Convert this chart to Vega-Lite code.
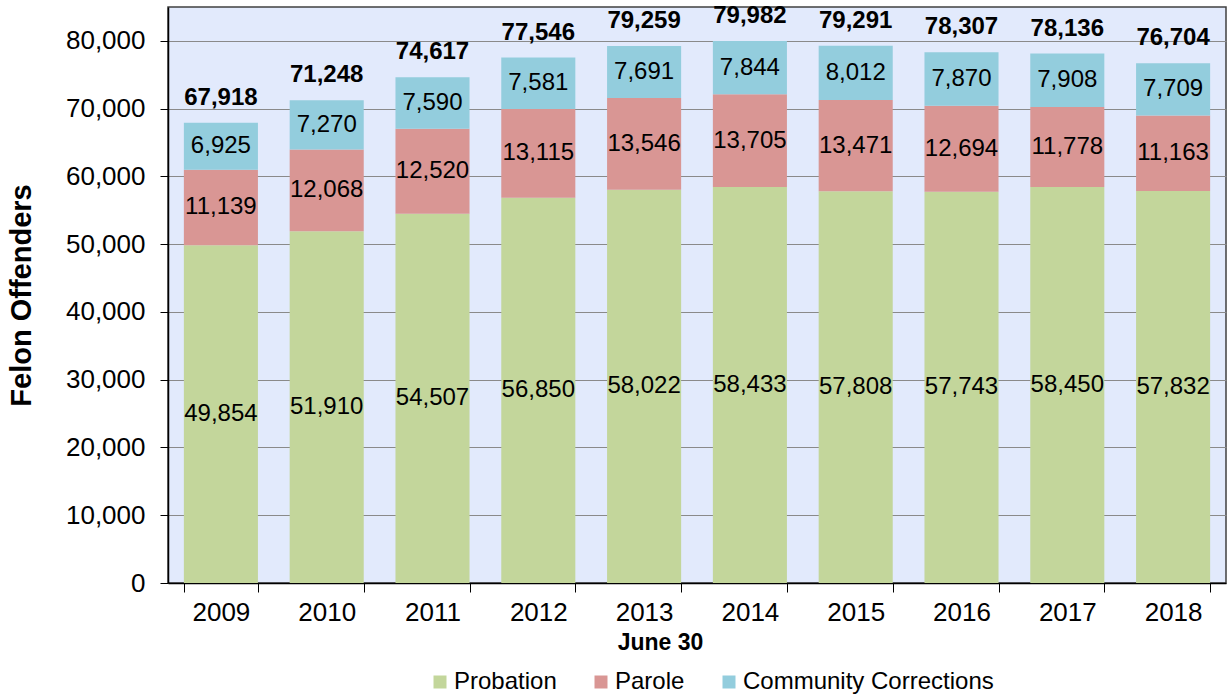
{
  "$schema": "https://vega.github.io/schema/vega-lite/v6.json",
  "width": 1058,
  "height": 576,
  "autosize": {"type": "none"},
  "padding": {"left": 168, "top": 7, "right": 2, "bottom": 113},
  "background": "white",
  "config": {
    "font": "Liberation Sans",
    "view": {"stroke": "#404040", "strokeWidth": 1.5, "fill": "#e2eafc"}
  },
  "data": {
    "values": [
      {"year": "2009", "series": "Probation", "value": 49854},
      {"year": "2009", "series": "Parole", "value": 11139},
      {"year": "2009", "series": "Community Corrections", "value": 6925},
      {"year": "2010", "series": "Probation", "value": 51910},
      {"year": "2010", "series": "Parole", "value": 12068},
      {"year": "2010", "series": "Community Corrections", "value": 7270},
      {"year": "2011", "series": "Probation", "value": 54507},
      {"year": "2011", "series": "Parole", "value": 12520},
      {"year": "2011", "series": "Community Corrections", "value": 7590},
      {"year": "2012", "series": "Probation", "value": 56850},
      {"year": "2012", "series": "Parole", "value": 13115},
      {"year": "2012", "series": "Community Corrections", "value": 7581},
      {"year": "2013", "series": "Probation", "value": 58022},
      {"year": "2013", "series": "Parole", "value": 13546},
      {"year": "2013", "series": "Community Corrections", "value": 7691},
      {"year": "2014", "series": "Probation", "value": 58433},
      {"year": "2014", "series": "Parole", "value": 13705},
      {"year": "2014", "series": "Community Corrections", "value": 7844},
      {"year": "2015", "series": "Probation", "value": 57808},
      {"year": "2015", "series": "Parole", "value": 13471},
      {"year": "2015", "series": "Community Corrections", "value": 8012},
      {"year": "2016", "series": "Probation", "value": 57743},
      {"year": "2016", "series": "Parole", "value": 12694},
      {"year": "2016", "series": "Community Corrections", "value": 7870},
      {"year": "2017", "series": "Probation", "value": 58450},
      {"year": "2017", "series": "Parole", "value": 11778},
      {"year": "2017", "series": "Community Corrections", "value": 7908},
      {"year": "2018", "series": "Probation", "value": 57832},
      {"year": "2018", "series": "Parole", "value": 11163},
      {"year": "2018", "series": "Community Corrections", "value": 7709}
    ]
  },
  "transform": [
    {"stack": "value", "groupby": ["year"], "sort": [{"field": "series", "order": "descending"}], "as": ["v0", "v1"]}
  ],
  "encoding": {
    "x": {
      "field": "year",
      "type": "ordinal",
      "scale": {"paddingInner": 0.3, "paddingOuter": 0.15},
      "axis": {
        "title": "June 30",
        "labelAngle": 0,
        "tickBand": "extent",
        "tickSize": 9,
        "tickColor": "#000000",
        "domainColor": "#000000",
        "domainWidth": 1.5,
        "labelFontSize": 26,
        "labelColor": "#000000",
        "labelPadding": 7,
        "titleFontSize": 23,
        "titleFontWeight": "bold",
        "titleColor": "#000000",
        "titlePadding": 6,
        "titleX": 492
      }
    }
  },
  "layer": [
    {
      "mark": {"type": "bar"},
      "encoding": {
        "y": {
          "field": "v0",
          "type": "quantitative",
          "scale": {"domain": [0, 85000], "nice": false},
          "axis": {
            "title": "Felon Offenders",
            "values": [0, 10000, 20000, 30000, 40000, 50000, 60000, 70000, 80000],
            "format": ",d",
            "tickSize": 8,
            "tickColor": "#000000",
            "domainColor": "#000000",
            "domainWidth": 1.5,
            "labelFontSize": 26,
            "labelColor": "#000000",
            "labelPadding": 15,
            "gridColor": "#8a8a8a",
            "gridWidth": 1.2,
            "titleFontSize": 29,
            "titleFontWeight": "bold",
            "titleColor": "#000000",
            "titlePadding": 29
          }
        },
        "y2": {"field": "v1"},
        "color": {
          "field": "series",
          "type": "nominal",
          "scale": {
            "domain": ["Probation", "Parole", "Community Corrections"],
            "range": ["#c3d69b", "#d99694", "#93cddd"]
          },
          "legend": {
            "title": null,
            "orient": "none",
            "direction": "horizontal",
            "legendX": 260,
            "legendY": 663,
            "symbolType": "square",
            "symbolSize": 169,
            "symbolStrokeWidth": 0,
            "labelFontSize": 24,
            "labelColor": "#000000",
            "labelOffset": 2,
            "labelLimit": 0,
            "columnPadding": 32
          }
        }
      }
    },
    {
      "transform": [
        {"calculate": "(datum.v0 + datum.v1) / 2", "as": "mid"}
      ],
      "mark": {"type": "text", "fontSize": 24, "baseline": "middle", "color": "#000000"},
      "encoding": {
        "y": {
          "field": "mid",
          "type": "quantitative",
          "axis": {
            "title": "Felon Offenders",
            "values": [0, 10000, 20000, 30000, 40000, 50000, 60000, 70000, 80000],
            "format": ",d",
            "tickSize": 8,
            "tickColor": "#000000",
            "domainColor": "#000000",
            "domainWidth": 1.5,
            "labelFontSize": 26,
            "labelColor": "#000000",
            "labelPadding": 15,
            "gridColor": "#8a8a8a",
            "gridWidth": 1.2,
            "titleFontSize": 29,
            "titleFontWeight": "bold",
            "titleColor": "#000000",
            "titlePadding": 29
          }
        },
        "text": {"field": "value", "type": "quantitative", "format": ","}
      }
    },
    {
      "transform": [
        {"aggregate": [{"op": "sum", "field": "value", "as": "total"}], "groupby": ["year"]}
      ],
      "mark": {"type": "text", "fontSize": 24, "fontWeight": "bold", "baseline": "middle", "dy": -25, "color": "#000000"},
      "encoding": {
        "y": {
          "field": "total",
          "type": "quantitative",
          "axis": {
            "title": "Felon Offenders",
            "values": [0, 10000, 20000, 30000, 40000, 50000, 60000, 70000, 80000],
            "format": ",d",
            "tickSize": 8,
            "tickColor": "#000000",
            "domainColor": "#000000",
            "domainWidth": 1.5,
            "labelFontSize": 26,
            "labelColor": "#000000",
            "labelPadding": 15,
            "gridColor": "#8a8a8a",
            "gridWidth": 1.2,
            "titleFontSize": 29,
            "titleFontWeight": "bold",
            "titleColor": "#000000",
            "titlePadding": 29
          }
        },
        "text": {"field": "total", "type": "quantitative", "format": ","}
      }
    }
  ]
}
